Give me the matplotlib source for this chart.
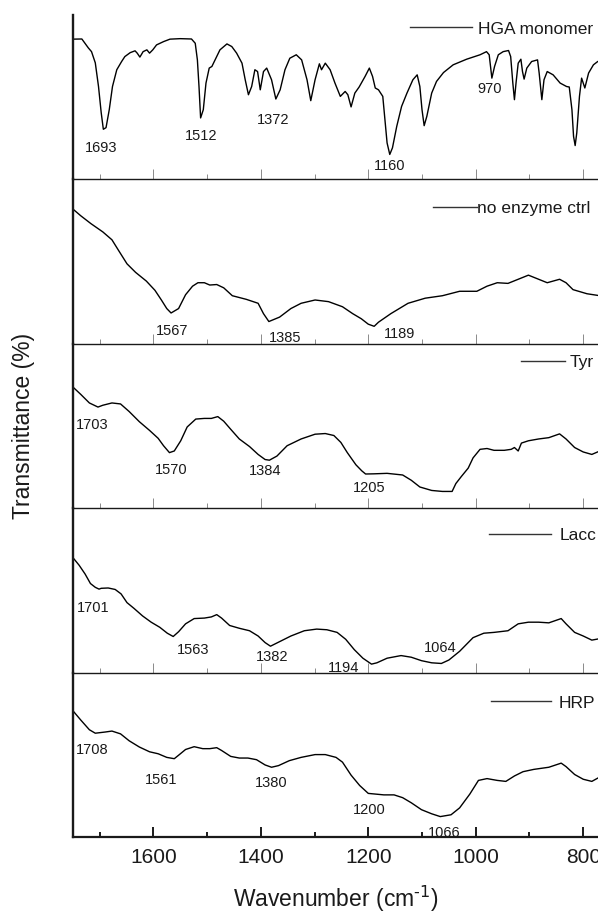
import numpy as np
import matplotlib.pyplot as plt
from matplotlib.ticker import MultipleLocator

plt.rcParams['font.family'] = ['Liberation Sans', 'DejaVu Sans']
plt.rcParams['mathtext.default'] = 'regular'

# HGA monomer
hga_wn = [1750, 1733, 1721, 1715, 1708, 1702, 1697, 1693, 1688, 1682, 1676, 1668, 1659, 1653,
          1643, 1634, 1630, 1625, 1619, 1612, 1607, 1601, 1594, 1581, 1569, 1550, 1529, 1522,
          1518, 1515, 1512, 1507, 1502, 1496, 1491, 1485, 1476, 1463, 1454, 1445, 1435, 1429,
          1423, 1417, 1411, 1406, 1401, 1395, 1389, 1380, 1372, 1364, 1355, 1346, 1334, 1324,
          1314, 1307, 1299, 1291, 1287, 1280, 1271, 1262, 1252, 1243, 1238, 1232, 1225, 1217,
          1206, 1198, 1192, 1187, 1181, 1173, 1169, 1165, 1160, 1155, 1147, 1138, 1128, 1117,
          1109, 1104, 1100, 1096, 1091, 1082, 1073, 1060, 1042, 1017, 992, 980, 975, 970, 965,
          958, 949, 939, 935, 931, 928, 925, 921, 916, 913, 910, 905, 896, 885, 882, 877, 873,
          867, 856, 843, 831, 826, 821, 818, 815, 812, 807, 803, 797, 790, 781, 773, 765]
hga_t = [85.3, 85.4, 80.0, 77.7, 70.9, 56.5, 40.6, 30.5, 31.5, 42.4, 56.5, 66.7, 71.7, 74.7,
         77.1, 78.2, 76.8, 74.4, 77.7, 78.8, 76.8, 78.8, 81.8, 83.8, 85.3, 85.6, 85.4, 82.8,
         72.7, 56.5, 37.4, 42.4, 58.6, 67.7, 68.7, 72.7, 78.8, 82.4, 80.8, 76.8, 70.7, 60.6,
         51.5, 56.5, 66.7, 65.6, 54.5, 65.6, 67.7, 60.6, 48.9, 54.5, 66.7, 73.7, 75.8, 72.7,
         60.6, 47.9, 60.6, 70.3, 66.7, 70.7, 66.7, 58.6, 50.5, 53.5, 51.5, 44.1, 52.5, 56.2,
         62.6, 67.7, 62.6, 55.6, 54.5, 50.5, 36.4, 22.2, 15.2, 19.2, 32.3, 44.4, 52.5, 60.6,
         63.6, 56.5, 42.4, 32.7, 38.4, 52.5, 59.6, 65.0, 69.7, 73.1, 75.8, 77.7, 75.8, 61.6, 68.7,
         75.8, 77.7, 78.4, 74.7, 58.6, 48.5, 58.8, 70.7, 73.1, 65.6, 61.0, 67.7, 71.7, 72.7, 64.7,
         48.5, 60.6, 65.6, 63.6, 58.6, 56.5, 56.2, 42.4, 26.2, 20.6, 28.3, 50.5, 61.6, 55.6, 64.7,
         69.7, 71.7, 72.5]
hga_peaks = [1693, 1512, 1372, 1160, 970]

# no enzyme control
ctrl_wn = [1750, 1735, 1716, 1694, 1677, 1665, 1649, 1633, 1613, 1597, 1585, 1575, 1567, 1553,
           1540, 1527, 1517, 1505, 1495, 1482, 1469, 1453, 1427, 1405, 1395, 1385, 1365, 1344,
           1325, 1299, 1274, 1248, 1229, 1213, 1200, 1189, 1181, 1158, 1126, 1094, 1062, 1030,
           998, 979, 960, 940, 921, 902, 886, 867, 844, 832, 819, 793, 769]
ctrl_t = [82.1, 77.9, 73.1, 68.1, 63.3, 57.0, 48.7, 43.5, 38.2, 32.6, 26.7, 21.5, 18.8, 21.5,
          29.9, 35.1, 37.2, 37.2, 35.8, 36.1, 34.1, 29.3, 27.1, 24.7, 18.4, 13.6, 16.3, 21.5,
          24.7, 26.7, 25.7, 22.6, 18.4, 15.3, 12.0, 10.7, 13.2, 18.4, 24.7, 27.8, 29.3, 32.0,
          32.0, 35.1, 37.2, 36.8, 39.3, 41.8, 39.7, 37.2, 39.3, 37.2, 33.0, 30.5, 29.3]
ctrl_peaks = [1567, 1385, 1189]

# tyrosinase
tyr_wn = [1750, 1735, 1719, 1703, 1694, 1677, 1661, 1645, 1626, 1607, 1591, 1581, 1570, 1561,
          1549, 1537, 1521, 1505, 1492, 1480, 1469, 1456, 1440, 1421, 1405, 1392, 1384, 1370,
          1351, 1325, 1299, 1280, 1264, 1251, 1239, 1223, 1212, 1205, 1190, 1165, 1136, 1120,
          1104, 1082, 1062, 1044, 1037, 1027, 1014, 1005, 992, 979, 966, 947, 934, 928, 921,
          915, 902, 883, 864, 844, 832, 816, 800, 784, 769]
tyr_t = [73.9, 69.3, 64.1, 61.6, 62.7, 64.1, 63.5, 58.9, 52.7, 47.4, 42.6, 38.1, 33.9, 34.9,
         41.1, 49.5, 54.3, 54.7, 54.7, 55.8, 53.0, 48.1, 42.2, 37.6, 32.8, 29.7, 29.3, 31.8,
         38.1, 42.2, 45.1, 45.5, 44.3, 40.1, 33.9, 26.5, 22.8, 20.9, 21.0, 21.3, 20.3, 17.1,
         13.0, 10.9, 10.3, 10.3, 15.1, 19.3, 24.5, 30.7, 35.9, 36.4, 35.3, 35.3, 35.9, 37.0, 34.9,
         39.7, 41.1, 42.2, 43.0, 45.3, 42.2, 37.0, 34.3, 32.8, 34.9]
tyr_peaks = [1703, 1570, 1384, 1205]

# laccase
lacc_wn = [1750, 1738, 1727, 1717, 1708, 1701, 1697, 1684, 1671, 1660, 1649, 1636, 1620, 1604,
           1588, 1574, 1563, 1553, 1540, 1524, 1505, 1492, 1482, 1473, 1458, 1440, 1421, 1405,
           1392, 1382, 1363, 1344, 1319, 1296, 1277, 1258, 1242, 1226, 1210, 1194, 1184, 1165,
           1139, 1120, 1101, 1082, 1064, 1050, 1030, 1005, 985, 966, 940, 921, 902, 883, 864,
           841, 832, 816, 800, 784, 769]
lacc_t = [70.2, 65.4, 60.1, 54.3, 52.0, 50.9, 51.4, 51.6, 50.7, 48.0, 42.7, 39.2, 34.6, 30.8,
          27.7, 24.1, 22.1, 25.0, 29.8, 33.0, 33.3, 34.0, 35.4, 33.3, 28.8, 27.1, 25.6, 22.4,
          18.4, 16.2, 19.3, 22.4, 25.6, 26.6, 26.2, 24.6, 20.4, 14.1, 8.9, 5.3, 6.1, 8.9,
          10.5, 9.5, 7.4, 6.1, 5.7, 7.8, 13.1, 21.4, 24.1, 24.6, 25.6, 29.8, 30.8, 30.8, 30.4,
          33.0, 29.8, 24.6, 22.4, 19.9, 20.8]
lacc_peaks = [1701, 1563, 1382, 1194, 1064]

# horseradish peroxidase
hrp_wn = [1750, 1735, 1719, 1708, 1690, 1677, 1661, 1645, 1626, 1607, 1591, 1575, 1561, 1553,
          1540, 1524, 1508, 1495, 1482, 1473, 1456, 1440, 1424, 1408, 1392, 1380, 1367, 1347,
          1325, 1299, 1280, 1260, 1248, 1232, 1216, 1200, 1171, 1152, 1136, 1120, 1101, 1082,
          1066, 1046, 1030, 1011, 995, 979, 960, 944, 928, 912, 892, 864, 841, 832, 816, 800,
          784, 769]
hrp_t = [77.1, 71.3, 65.4, 63.3, 64.0, 64.6, 62.9, 58.7, 54.9, 52.0, 50.8, 48.6, 47.8, 49.9,
         53.4, 55.1, 53.9, 53.9, 54.5, 52.8, 49.2, 48.2, 48.2, 47.2, 44.0, 42.6, 43.6, 46.6,
         48.6, 50.3, 50.3, 48.6, 45.7, 37.8, 31.5, 26.7, 25.8, 25.8, 24.1, 21.0, 16.8, 14.3,
         12.6, 13.7, 17.9, 26.3, 34.6, 35.7, 34.6, 34.0, 37.3, 39.9, 41.3, 42.6, 45.1, 43.0,
         38.2, 35.3, 34.0, 36.7]
hrp_peaks = [1708, 1561, 1380, 1200, 1066]

names = ['HGA monomer', 'no enzyme ctrl', 'Tyr', 'Lacc', 'HRP']
spectra = [(hga_wn, hga_t, hga_peaks), (ctrl_wn, ctrl_t, ctrl_peaks),
           (tyr_wn, tyr_t, tyr_peaks), (lacc_wn, lacc_t, lacc_peaks),
           (hrp_wn, hrp_t, hrp_peaks)]

# peak label offsets from the band minimum, in pixels (right, down)
label_offsets = [
    [(-2.6, 18.4), (0.1, 18.4), (-2.5, 20.7), (0.3, 11.7), (-2.5, 10.7)],
    [(0.9, 17.9), (16.7, 16.2), (25.0, 7.2)],
    [(-5.3, 17.6), (1.5, 17.3), (-4.5, 10.7), (3.7, 13.8)],
    [(-6.3, 19.0), (20.4, 13.1), (2.1, 10.3), (-28.4, 3.4), (-0.8, -15.5)],
    [(-2.6, 17.2), (-12.7, 21.7), (-0.8, 15.5), (1.0, 16.2), (3.8, 16.2)],
]
# legend: anchor (axes fraction), handle length, text pad
legend_style = [
    ((0.642, 0.915), 3.56, 0.34),
    ((0.686, 0.826), 2.53, 0.0),
    ((0.853, 0.888), 2.53, 0.29),
    ((0.792, 0.838), 3.56, 0.52),
    ((0.796, 0.817), 3.45, 0.46),
]

ink = '#1a1a1a'
fig, axes = plt.subplots(5, 1, sharex=True, figsize=(5.98, 9.13), dpi=100)
fig.subplots_adjust(left=0.1216, right=1.0, top=0.9836, bottom=0.0829, hspace=0)

for i, ax in enumerate(axes):
    wn, t, peaks = spectra[i]
    wn = np.array(wn, dtype=float)
    t = np.array(t, dtype=float)
    # transparent background so the panel below doesn't hide the divider
    ax.set_facecolor('none')
    ax.plot(wn, t, color='black', lw=1.0, label=names[i])
    ax.set_ylim(0, 100)
    ax.set_xlim(1750, 772.5)
    ax.set_yticks([])
    ax.spines['top'].set_visible(False)
    ax.spines['right'].set_visible(False)
    ax.spines['left'].set_linewidth(1.7)
    ax.spines['left'].set_color(ink)
    last = i == len(axes) - 1
    ax.spines['bottom'].set_linewidth(1.6 if last else 1.0)
    ax.spines['bottom'].set_color(ink)
    ax.xaxis.set_major_locator(MultipleLocator(200))
    ax.xaxis.set_minor_locator(MultipleLocator(100))
    ax.tick_params(axis='x', which='both', direction='in',
                   color=ink if last else '#8a8a8a',
                   width=1.4 if last else 0.7)
    ax.tick_params(axis='x', which='major', length=7.2, labelsize=15,
                   labelcolor=ink, pad=8)
    ax.tick_params(axis='x', which='minor', length=3.6)

    order = np.argsort(wn)
    for pk, (dx, dy) in zip(peaks, label_offsets[i]):
        y = np.interp(pk, wn[order], t[order])
        ax.annotate(str(pk), xy=(pk, y), xytext=(dx * 0.72, -dy * 0.72),
                    textcoords='offset points', ha='center', va='center',
                    fontsize=10.5, color=ink)

    anchor, hlen, hpad = legend_style[i]
    leg = ax.legend(loc='center left', bbox_to_anchor=anchor, frameon=False,
                    fontsize=12.5, handlelength=hlen, handletextpad=hpad,
                    borderpad=0, borderaxespad=0)
    for h in leg.get_lines():
        h.set_color('#333333')
        h.set_linewidth(1.0)
    for txt in leg.get_texts():
        txt.set_color(ink)

axes[-1].set_xlabel('Wavenumber (cm$^{\\text{-1}}$)', fontsize=16.5, color=ink, labelpad=12)
fig.text(0.04, 0.533, 'Transmittance (%)', rotation=90,
         ha='center', va='center', fontsize=16.5, color=ink)

fig.savefig('out.png', dpi=100)
